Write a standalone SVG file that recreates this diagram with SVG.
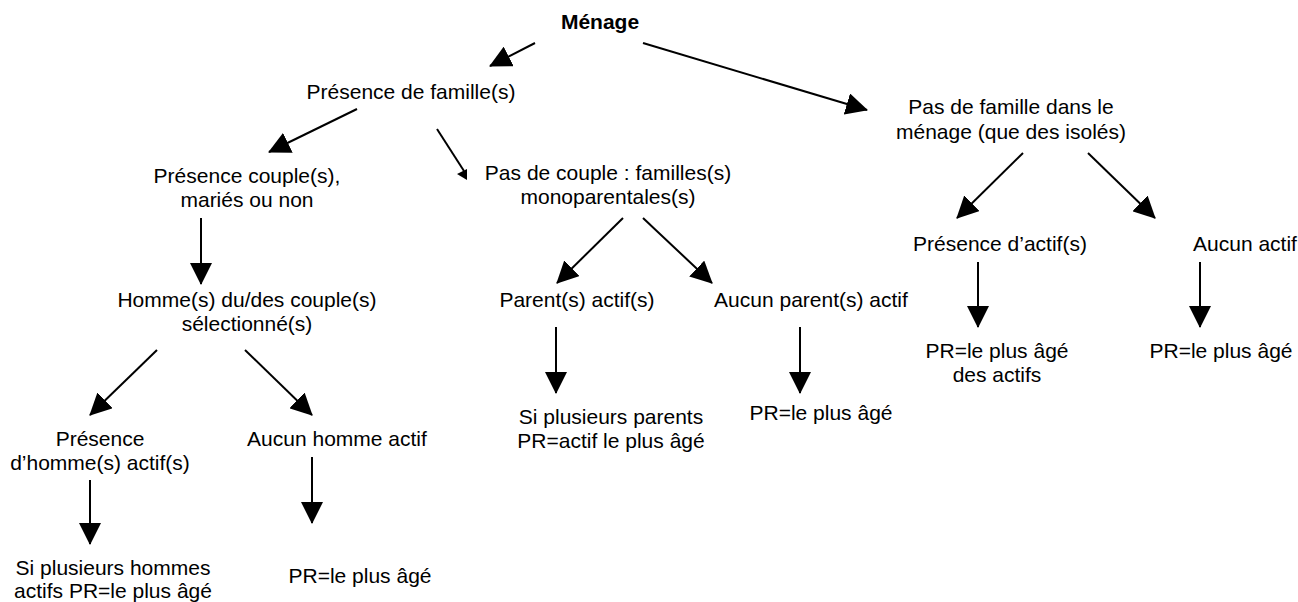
<svg xmlns="http://www.w3.org/2000/svg" width="1298" height="602" viewBox="0 0 1298 602">
<defs>
<marker id="ah" markerUnits="userSpaceOnUse" markerWidth="22" markerHeight="22" viewBox="0 0 22 22" refX="21" refY="11" orient="auto">
<path d="M0,0 L22,11 L0,22 z" fill="#000"/>
</marker>
<style>
text{font-family:"Liberation Sans",Arial,sans-serif;font-size:21px;fill:#000;text-anchor:middle}
.b{font-weight:bold}
.c line{stroke:#000;stroke-width:2;marker-end:url(#ah)}
</style>
</defs>
<rect width="1298" height="602" fill="#fff"/>
<g id="connectors" class="c">
<line x1="535" y1="43" x2="490" y2="66"/>
<line x1="643" y1="43" x2="867" y2="110"/>
<line x1="357" y1="109" x2="269" y2="152"/>
<line x1="437" y1="129" x2="464" y2="171" style="marker-end:none"/>
<polygon points="467,169 457,174 467,180" fill="#000"/>
<line x1="201" y1="218" x2="201" y2="284"/>
<line x1="157" y1="350" x2="90" y2="415"/>
<line x1="245" y1="350" x2="312" y2="415"/>
<line x1="90" y1="480" x2="90" y2="544"/>
<line x1="312" y1="457" x2="312" y2="523"/>
<line x1="623" y1="218" x2="557" y2="283"/>
<line x1="643" y1="218" x2="712" y2="283"/>
<line x1="556" y1="327" x2="556" y2="393"/>
<line x1="800" y1="327" x2="800" y2="393"/>
<line x1="1023" y1="153" x2="957" y2="218"/>
<line x1="1088" y1="153" x2="1155" y2="218"/>
<line x1="978" y1="262" x2="978" y2="327"/>
<line x1="1200" y1="262" x2="1200" y2="327"/>
</g>
<g id="menage"><text class="b" x="600" y="29">Ménage</text></g>
<g id="presence-famille"><text x="411" y="99">Présence de famille(s)</text></g>
<g id="pas-famille"><text x="1011" y="114">Pas de famille dans le</text><text x="1011" y="139">ménage (que des isolés)</text></g>
<g id="presence-couple"><text x="247" y="183">Présence couple(s),</text><text x="247" y="207">mariés ou non</text></g>
<g id="pas-couple"><text x="608" y="180">Pas de couple : familles(s)</text><text x="608" y="204">monoparentales(s)</text></g>
<g id="homme"><text x="247" y="307">Homme(s) du/des couple(s)</text><text x="247" y="331">sélectionné(s)</text></g>
<g id="presence-homme"><text x="100" y="446">Présence</text><text x="100" y="470">d’homme(s) actif(s)</text></g>
<g id="aucun-homme"><text x="337" y="446">Aucun homme actif</text></g>
<g id="si-hommes"><text x="113" y="575">Si plusieurs hommes</text><text x="113" y="598">actifs PR=le plus âgé</text></g>
<g id="pr-homme"><text x="360" y="583">PR=le plus âgé</text></g>
<g id="parent-actif"><text x="577" y="307">Parent(s) actif(s)</text></g>
<g id="aucun-parent"><text x="811" y="307">Aucun parent(s) actif</text></g>
<g id="si-parents"><text x="611" y="424">Si plusieurs parents</text><text x="611" y="448">PR=actif le plus âgé</text></g>
<g id="pr-parent"><text x="821" y="420">PR=le plus âgé</text></g>
<g id="presence-actif"><text x="1000" y="251">Présence d’actif(s)</text></g>
<g id="aucun-actif"><text x="1245" y="251">Aucun actif</text></g>
<g id="pr-actifs"><text x="997" y="358">PR=le plus âgé</text><text x="997" y="382">des actifs</text></g>
<g id="pr-isoles"><text x="1221" y="358">PR=le plus âgé</text></g>
</svg>
